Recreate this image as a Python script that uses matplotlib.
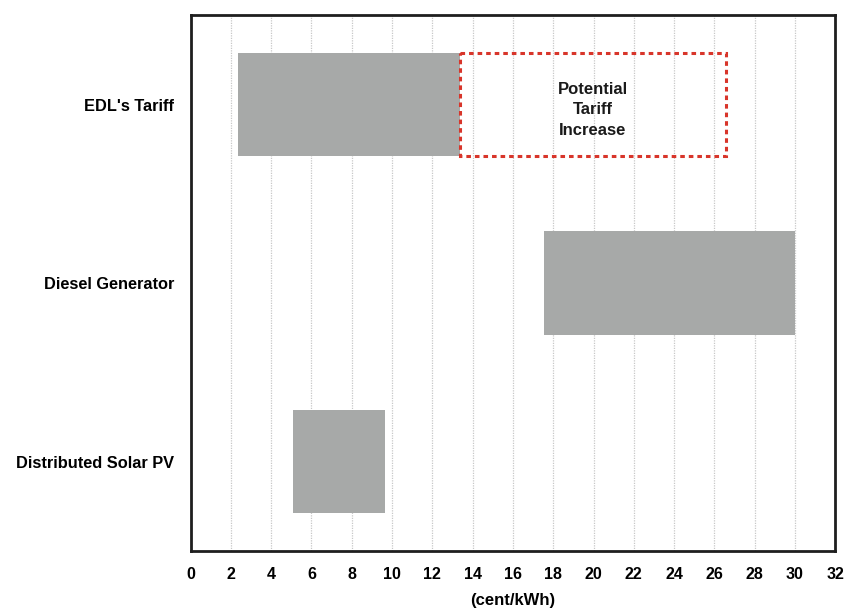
import matplotlib.pyplot as plt
from matplotlib.patches import Rectangle

# Диапазоны стоимости (цент/кВт·ч)
categories = ["EDL's Tariff", "Diesel Generator", "Distributed Solar PV"]
low = [2.35, 17.55, 5.1]
high = [13.35, 30.0, 9.65]
# Возможное повышение тарифа EDL
increase_low = 13.35
increase_high = 26.6

plt.rcParams['font.family'] = ['Liberation Sans', 'DejaVu Sans']

fig = plt.figure(figsize=[8.45, 6.1], dpi=100)
ax = fig.add_axes([0.2255, 0.097, 0.763, 0.878])

ypos = list(range(len(categories)))
widths = [h - l for l, h in zip(low, high)]
ax.barh(ypos, widths, left=low, height=0.58, color='#a7a9a8', zorder=2)

# Пунктирная рамка "Potential Tariff Increase"
ax.add_patch(Rectangle((increase_low, -0.29), increase_high - increase_low, 0.58,
                       fill=False, edgecolor='#d8352a', linewidth=2.2,
                       linestyle=(0, (1.5, 1.3)), zorder=3))
ax.text((increase_low + increase_high) / 2, 0.03, "Potential\nTariff\nIncrease",
        ha='center', va='center', fontsize=12, fontweight='bold',
        linespacing=1.47, color='#1a1a1a', zorder=4)

ax.set_xlim(0, 32)
ax.set_ylim(2.5, -0.5)
ax.set_xticks(range(0, 33, 2))
ax.set_yticks(ypos)
ax.set_yticklabels(categories, fontsize=11.8, fontweight='bold')
for lab in ax.get_xticklabels():
    lab.set_fontweight('bold')
    lab.set_fontsize(11.5)
ax.tick_params(axis='both', length=0)
ax.tick_params(axis='y', pad=12)
ax.tick_params(axis='x', pad=12)
ax.set_xlabel("(cent/kWh)", fontsize=12, fontweight='bold', labelpad=7.5)

ax.grid(axis='x', color='#c8c8c8', linestyle=(0, (1, 1)), linewidth=0.9, zorder=0)
ax.set_axisbelow(True)
for sp in ax.spines.values():
    sp.set_linewidth(2)
    sp.set_color('#1e1e1e')

plt.savefig("out.png", dpi=100)
